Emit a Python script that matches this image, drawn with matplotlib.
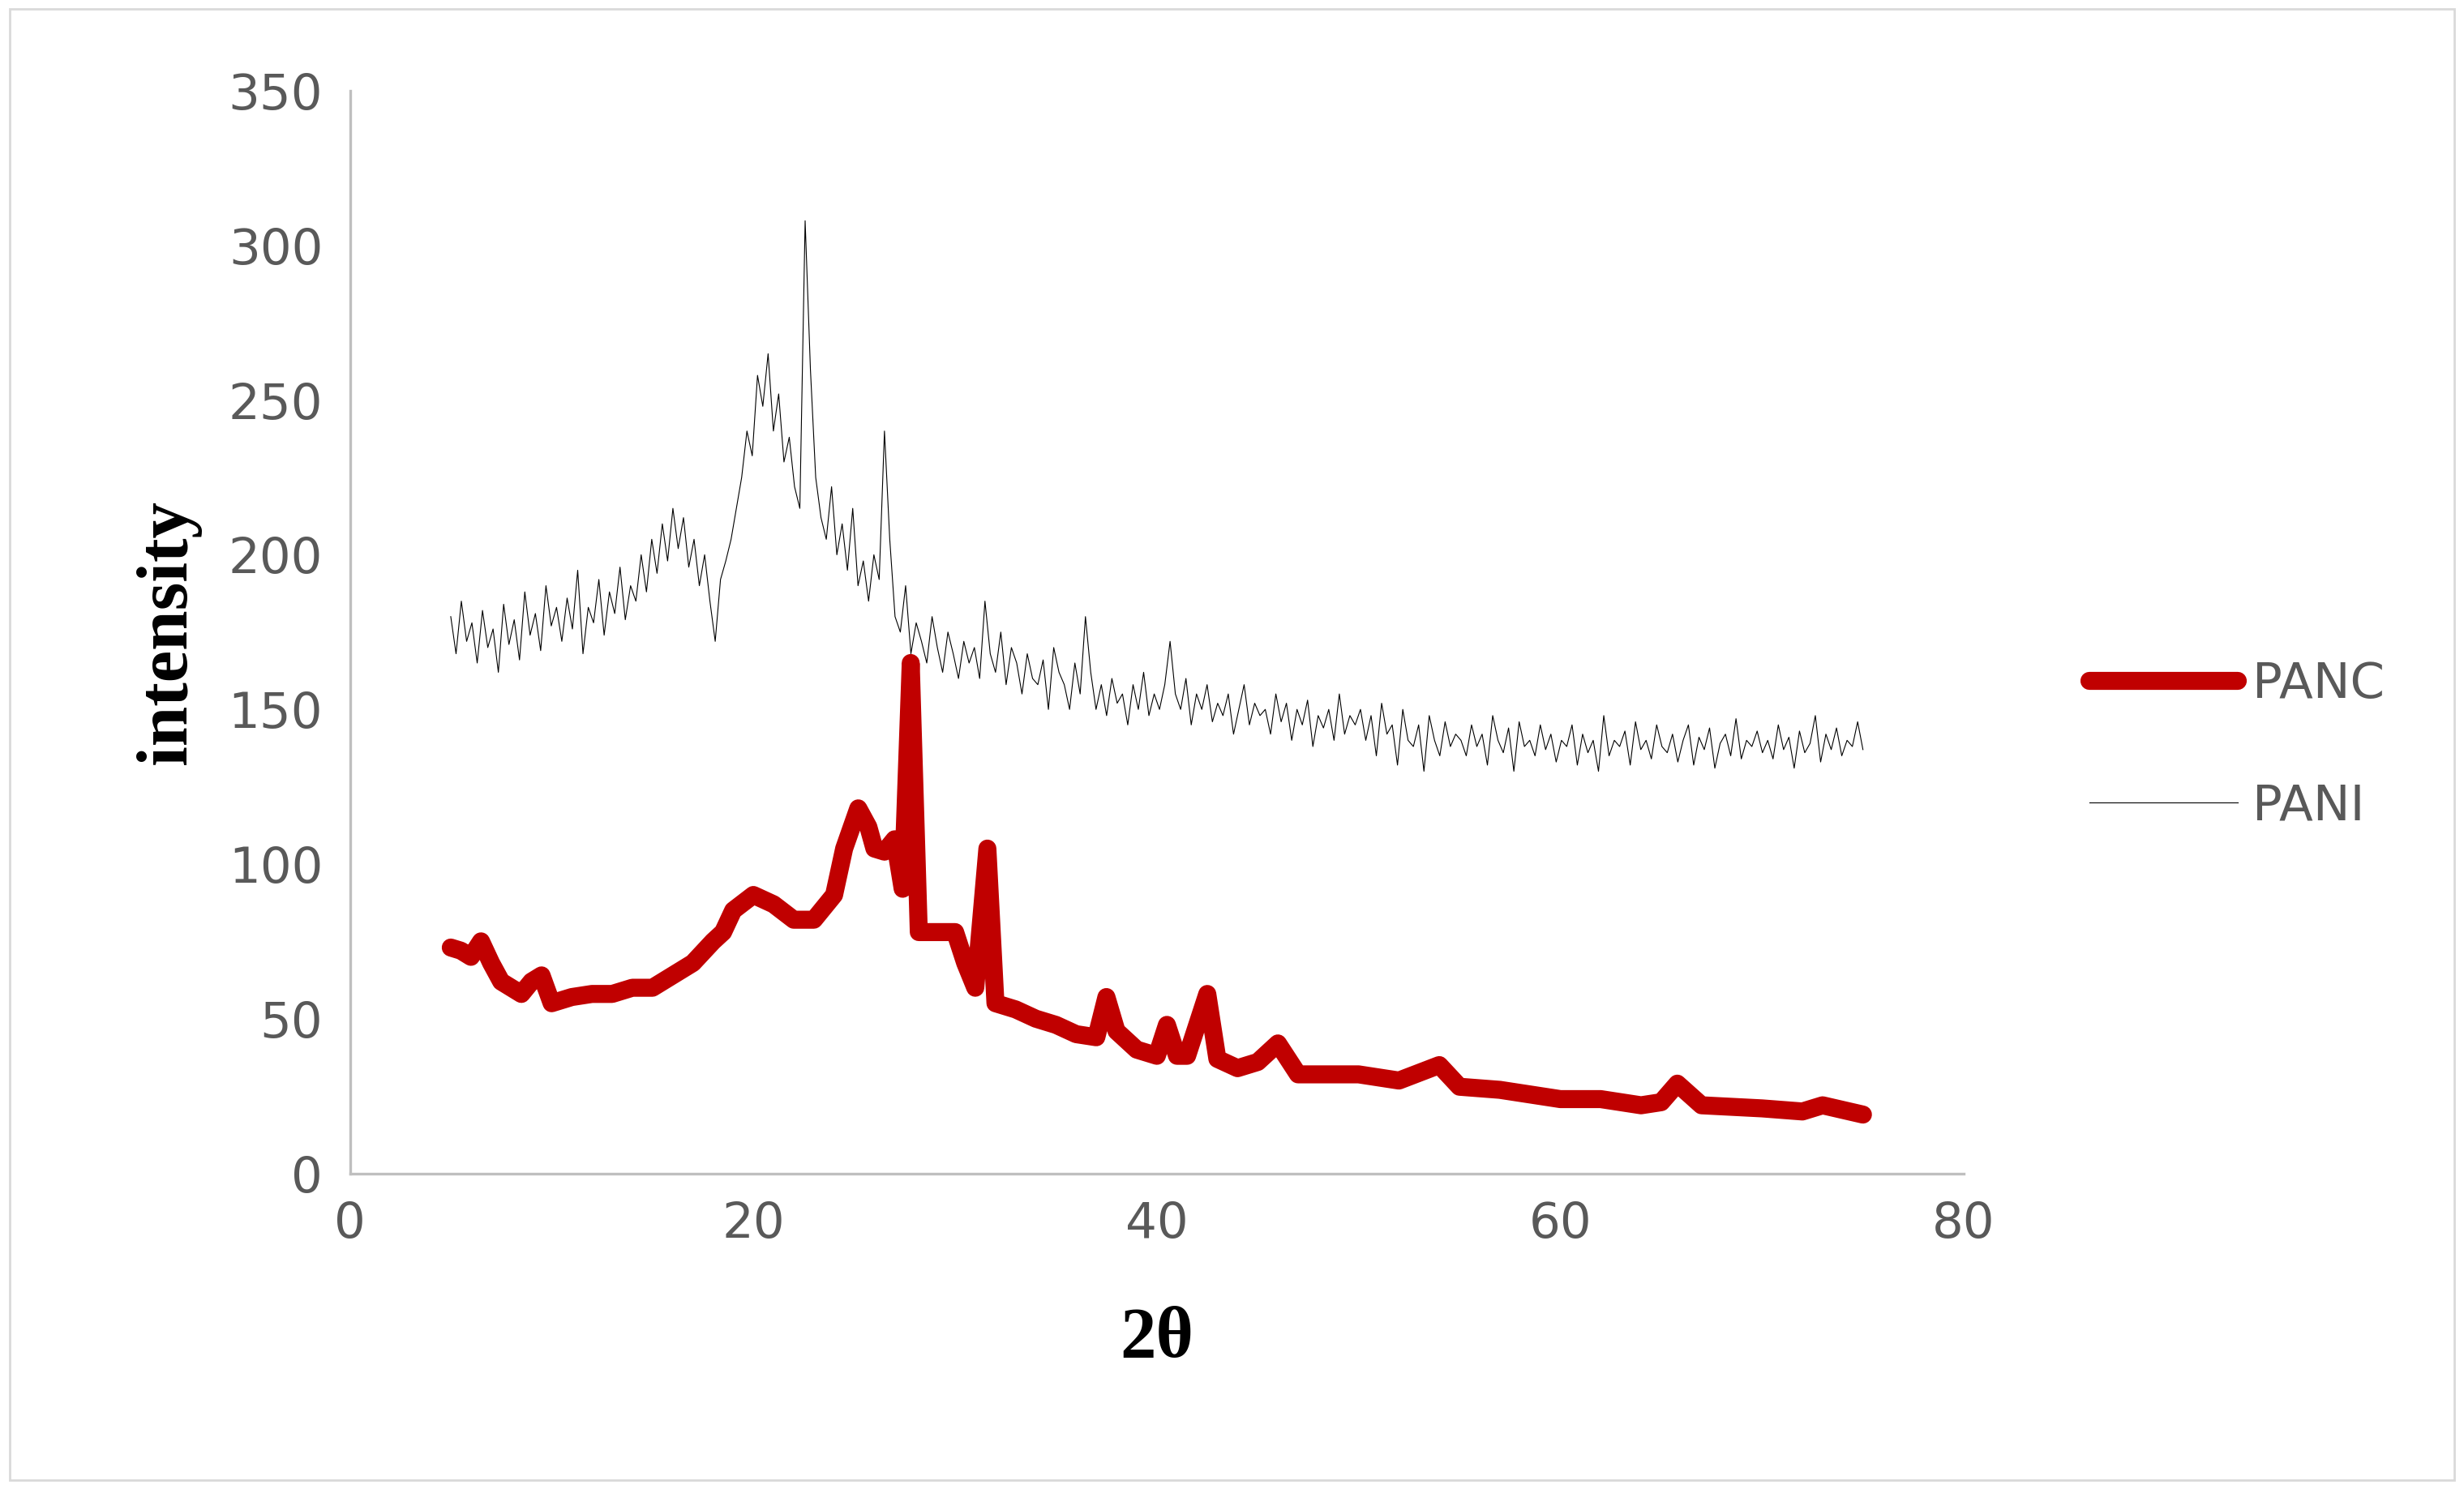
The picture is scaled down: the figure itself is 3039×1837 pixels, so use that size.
import numpy as np
import matplotlib.pyplot as plt

# PANI: thin noisy trace at ~0.27 deg spacing
pani_y = [180, 168, 185, 172, 178, 165, 182, 170, 176, 162, 184, 171, 179, 166, 188, 174, 181, 169, 190, 177, 183,
          172, 186, 176, 195, 168, 183, 178, 192, 174, 188, 181, 196, 179, 190, 185, 200, 188, 205, 194,
          210, 198, 215, 202, 212, 196, 205, 190, 200, 185, 172, 192, 198, 205, 215, 225, 240, 232, 258,
          248, 265, 240, 252, 230, 238, 222, 215, 308, 260, 225, 212, 205, 222, 200, 210, 195, 215, 190,
          198, 185, 200, 192, 240, 205, 180, 175, 190, 168, 178, 172, 165, 180, 170, 162, 175, 168, 160,
          172, 165, 170, 160, 185, 168, 162, 175, 158, 170, 165, 155, 168, 160, 158, 166, 150, 170, 162,
          158, 150, 165, 155, 180, 162, 150, 158, 148, 160, 152, 155, 145, 158, 150, 162, 148, 155, 150,
          158, 172, 155, 150, 160, 145, 155, 150, 158, 146, 152, 148, 155, 142, 150, 158, 145, 152, 148,
          150, 142, 155, 146, 152, 140, 150, 145, 153, 138, 148, 144, 150, 140, 155, 142, 148, 145, 150,
          140, 148, 135, 152, 142, 145, 132, 150, 140, 138, 145, 130, 148, 140, 135, 146, 138, 142, 140,
          135, 145, 138, 142, 132, 148, 140, 136, 144, 130, 146, 138, 140, 135, 145, 137, 142, 133, 140,
          138, 145, 132, 142, 136, 140, 130, 148, 135, 140, 138, 143, 132, 146, 137, 140, 134, 145, 138,
          136, 142, 133, 140, 145, 132, 141, 137, 144, 131, 139, 142, 135, 147, 134, 140, 138, 143, 136,
          140, 134, 145, 137, 141, 131, 143, 136, 139, 148, 133, 142, 137, 144, 135, 140, 138, 146, 137]
pani_x = np.linspace(5, 75, len(pani_y))

# PANC: thick red trace
panc_x = [5, 5.5, 6, 6.5, 7, 7.5, 8, 8.5, 9, 9.5, 10, 11, 12, 13, 14, 15, 16, 17, 18, 18.5, 19, 20, 21, 22,
          23, 24, 24.5, 25.2, 25.7, 26, 26.5, 27, 27.4, 27.8, 28.2, 29, 30, 30.5, 31, 31.6, 32, 33, 34, 35,
          36, 37, 37.5, 38, 39, 40, 40.5, 41, 41.5, 42.5, 43, 44, 45, 46, 47, 48, 50, 52, 54, 55, 57, 60,
          62, 64, 65, 65.8, 67, 70, 72, 73, 75]
panc_y = [73, 72, 70, 75, 68, 62, 60, 58, 62, 64, 55, 57, 58, 58, 60, 60, 64, 68, 75, 78, 85, 90, 87, 82,
          82, 90, 105, 118, 112, 105, 104, 108, 92, 165, 78, 78, 78, 68, 60, 105, 55, 53, 50, 48,
          45, 44, 57, 46, 40, 38, 48, 38, 38, 58, 37, 34, 36, 42, 32, 32, 32, 30, 35, 28, 27, 24,
          24, 22, 23, 29, 22, 21, 20, 22, 19]

plt.figure(figsize=(15.195, 9.185), dpi=200)
ax = plt.axes([0.142, 0.212, 0.655, 0.727])
ax.plot(panc_x, panc_y, color='#c00000', lw=8, label='PANC', solid_capstyle='round')
ax.plot(pani_x, pani_y, color='black', lw=0.4, label='PANI')
ax.set_xlim(0, 80)
ax.set_ylim(0, 350)
ax.set_xticks(range(0, 81, 20))
ax.set_yticks(range(0, 351, 50))
for s in ['top', 'right']:
    ax.spines[s].set_visible(False)
for s in ['left', 'bottom']:
    ax.spines[s].set_color('#bfbfbf')
    ax.spines[s].set_linewidth(1.2)
ax.tick_params(length=0, labelsize=22, labelcolor='#595959', pad=12)
ax.set_xlabel('2θ', fontsize=32, fontweight='bold', family='Liberation Serif', labelpad=26)
ax.set_ylabel('intensity', fontsize=32, fontweight='bold', family='Liberation Serif', labelpad=12)
leg = ax.legend(loc='center left', bbox_to_anchor=(1.05, 0.395), frameon=False, fontsize=22,
                handlelength=3, labelspacing=1.5, handletextpad=0.3)
for t in leg.get_texts():
    t.set_color('#595959')
fig = plt.gcf()
fig.patches.append(plt.Rectangle((0.004, 0.006), 0.992, 0.988, transform=fig.transFigure,
                                 fill=False, edgecolor='#d9d9d9', lw=1))
plt.savefig('out.png')
